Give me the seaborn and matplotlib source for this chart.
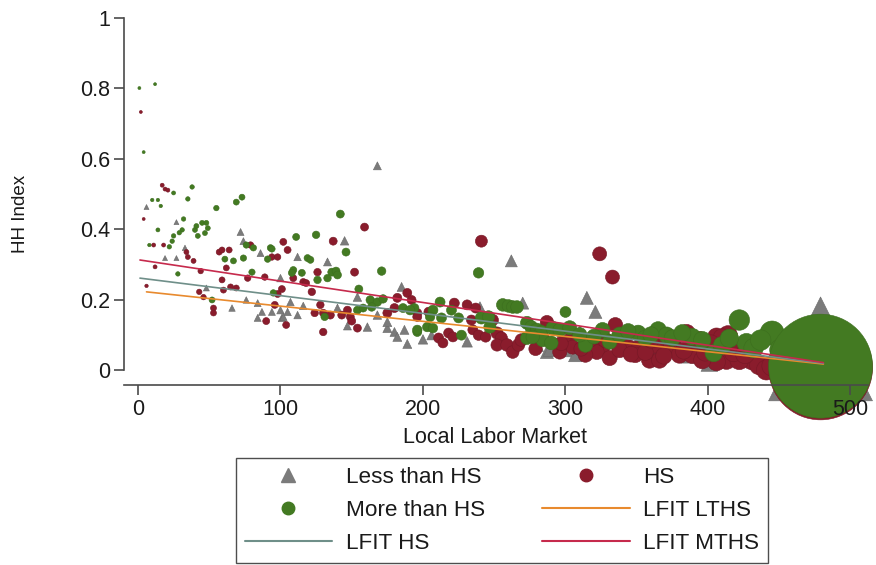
import matplotlib
matplotlib.use("Agg")
import matplotlib.pyplot as plt
import seaborn as sns
import pandas as pd
from matplotlib.lines import Line2D

# ---------------- data ----------------
# Less than HS (triangles)
lths_x = [6, 27, 33, 27, 19, 72, 74, 86, 112, 48, 66, 76, 84, 87, 84, 101, 100, 133, 145, 107,
          100, 105, 112, 102, 116, 140, 154, 168, 147, 161, 175, 180, 182, 189, 185, 168, 262, 270,
          187, 206, 231, 240, 280, 287, 315, 321, 310, 289, 300, 307, 401, 94, 345, 366, 387, 175,
          200, 479]
lths_y = [0.463, 0.42, 0.347, 0.318, 0.318, 0.392, 0.366, 0.332, 0.321, 0.233, 0.176, 0.199, 0.19,
          0.165, 0.148, 0.148, 0.261, 0.307, 0.367, 0.193, 0.17, 0.165, 0.156, 0.151, 0.182, 0.176,
          0.207, 0.156, 0.125, 0.122, 0.119, 0.108, 0.094, 0.074, 0.236, 0.58, 0.31, 0.19, 0.114,
          0.099, 0.08, 0.179, 0.071, 0.051, 0.205, 0.165, 0.105, 0.057, 0.057, 0.043, 0.02, 0.165,
          0.071, 0.057, 0.043, 0.136, 0.087, 0.06]
lths_w = [25, 25, 30, 25, 25, 49, 49, 49, 56, 36, 42, 42, 49, 49, 49, 56, 56, 64, 72, 56,
          56, 56, 56, 56, 56, 64, 72, 72, 64, 72, 81, 81, 81, 81, 81, 64, 144, 144,
          81, 90, 110, 110, 170, 170, 169, 169, 200, 170, 190, 190, 280, 49, 240, 260, 270, 81,
          90, 10800]

# HS (maroon circles)
hs_x = [2, 4, 6, 17, 19, 21, 11, 12, 18, 34, 35, 39, 44, 57, 59, 64, 62, 59, 43, 46, 60, 65, 69,
        53, 53, 79, 77, 89, 94, 98, 102, 105, 90, 96, 116, 118, 109, 126, 122, 101, 98, 137, 159,
        152, 128, 124, 130, 135, 143, 147, 149, 150, 154, 130, 104, 189, 192, 196, 182, 180, 175,
        204, 196, 222, 231, 237, 234, 249, 241, 211, 214, 218, 221, 235, 239, 244, 252, 255, 252,
        259, 263, 267, 269, 287, 284, 303, 305, 324, 333, 335, 326, 322, 340, 344, 352, 359, 375,
        378, 385, 392, 406, 414, 410, 408, 413, 406, 371, 380, 389, 396, 431, 436, 441, 422, 296,
        314, 331, 349, 366, 338, 363, 317, 346, 356, 369, 383, 398, 402, 360, 342, 328, 394, 418,
        426, 445, 450, 311, 297, 279, 479]
hs_y = [0.733, 0.429, 0.239, 0.525, 0.514, 0.511, 0.355, 0.293, 0.355, 0.335, 0.321, 0.31, 0.281,
        0.335, 0.341, 0.341, 0.29, 0.256, 0.222, 0.207, 0.227, 0.236, 0.233, 0.176, 0.162, 0.355,
        0.261, 0.264, 0.321, 0.321, 0.364, 0.341, 0.139, 0.185, 0.25, 0.247, 0.261, 0.278, 0.222,
        0.23, 0.216, 0.366, 0.406, 0.278, 0.185, 0.162, 0.162, 0.156, 0.156, 0.17, 0.151, 0.139,
        0.119, 0.108, 0.128, 0.219, 0.199, 0.162, 0.205, 0.176, 0.162, 0.165, 0.151, 0.19, 0.185,
        0.176, 0.142, 0.142, 0.366, 0.091, 0.077, 0.105, 0.094, 0.114, 0.099, 0.094, 0.105, 0.091,
        0.071, 0.071, 0.051, 0.071, 0.085, 0.136, 0.091, 0.085, 0.065, 0.33, 0.264, 0.128, 0.065,
        0.051, 0.085, 0.065, 0.065, 0.028, 0.071, 0.057, 0.105, 0.065, 0.094, 0.099, 0.091, 0.062,
        0.028, 0.023, 0.057, 0.043, 0.043, 0.028, 0.028, 0.014, 0.0, 0.028, 0.051, 0.043, 0.034,
        0.043, 0.028, 0.057, 0.071, 0.085, 0.045, 0.05, 0.04, 0.055, 0.05, 0.075, 0.085, 0.1,
        0.085, 0.085, 0.05, 0.045, 0.012, 0.005, 0.06, 0.075, 0.06, 0.006]
hs_w = [9, 9, 12, 16, 16, 16, 16, 16, 16, 25, 25, 25, 30, 36, 36, 36, 36, 36, 30, 30, 36, 36, 36,
        36, 36, 42, 42, 42, 42, 42, 49, 49, 49, 49, 49, 49, 49, 56, 56, 49, 49, 64, 64,
        64, 56, 56, 56, 64, 64, 64, 64, 64, 64, 56, 49, 81, 81, 81, 81, 81, 81,
        90, 81, 100, 100, 100, 100, 130, 144, 100, 100, 100, 100, 100, 110, 110, 150, 150, 150,
        160, 160, 160, 160, 180, 180, 200, 200, 196, 196, 220, 220, 220, 240, 240, 250, 260, 280,
        280, 300, 300, 320, 360, 340, 340, 340, 320, 280, 280, 300, 300, 380, 380, 400, 360, 200,
        220, 230, 240, 260, 240, 260, 220, 250, 260, 270, 290, 300, 310, 260, 240, 230, 300, 350,
        360, 420, 440, 210, 200, 180, 10800]

# More than HS (green circles)
mths_x = [1, 12, 4, 10, 14, 16, 25, 38, 35, 32, 31, 29, 25, 24, 22, 8, 14, 40, 41, 42, 45, 48, 49,
          47, 55, 69, 73, 28, 61, 67, 74, 81, 80, 93, 91, 95, 52, 76, 111, 125, 142, 146, 94, 119,
          121, 109, 108, 115, 136, 139, 140, 171, 126, 133, 155, 163, 168, 172, 164, 186, 194, 196,
          131, 154, 158, 212, 220, 207, 191, 205, 213, 225, 241, 246, 256, 260, 263, 266, 239, 196,
          203, 207, 227, 247, 273, 276, 280, 283, 284, 273, 277, 300, 291, 296, 290, 314, 326, 331,
          351, 356, 365, 371, 375, 389, 404, 422, 427, 432, 445, 451, 338, 344, 360, 382, 396, 410,
          415, 437, 458, 462, 303, 310, 320, 479]
mths_y = [0.801, 0.812, 0.619, 0.483, 0.483, 0.466, 0.503, 0.52, 0.486, 0.429, 0.398, 0.39, 0.381,
          0.366, 0.35, 0.355, 0.398, 0.398, 0.409, 0.381, 0.418, 0.418, 0.403, 0.389, 0.46, 0.477,
          0.491, 0.273, 0.315, 0.31, 0.318, 0.347, 0.278, 0.347, 0.315, 0.219, 0.199, 0.355, 0.378,
          0.384, 0.443, 0.335, 0.344, 0.318, 0.313, 0.284, 0.276, 0.276, 0.278, 0.281, 0.27, 0.281,
          0.256, 0.261, 0.23, 0.199, 0.193, 0.202, 0.179, 0.176, 0.176, 0.108, 0.151, 0.17, 0.176,
          0.193, 0.17, 0.17, 0.17, 0.151, 0.148, 0.148, 0.148, 0.151, 0.185, 0.182, 0.179, 0.179,
          0.276, 0.114, 0.122, 0.119, 0.099, 0.122, 0.134, 0.122, 0.114, 0.108, 0.085, 0.091, 0.094,
          0.165, 0.119, 0.114, 0.077, 0.071, 0.114, 0.08, 0.105, 0.091, 0.114, 0.099, 0.091, 0.094,
          0.048, 0.142, 0.077, 0.062, 0.105, 0.057, 0.1, 0.11, 0.1, 0.105, 0.085, 0.07, 0.09, 0.085,
          0.07, 0.09, 0.12, 0.1, 0.095, 0.011]
mths_w = [9, 9, 9, 12, 12, 12, 16, 20, 20, 20, 20, 20, 20, 20, 20, 12, 16, 25, 25, 25, 25, 25, 25,
          25, 30, 36, 36, 20, 36, 36, 40, 40, 40, 42, 42, 42, 36, 40, 49, 56, 64, 64, 42, 49,
          49, 49, 49, 49, 64, 64, 64, 72, 56, 56, 64, 72, 72, 72, 72, 81, 81, 81,
          56, 64, 64, 100, 100, 100, 90, 90, 100, 100, 150, 150, 160, 160, 160, 160, 110, 90,
          90, 90, 100, 150, 170, 170, 180, 180, 180, 170, 180, 120, 190, 190, 190, 210, 220, 220,
          250, 250, 270, 270, 270, 290, 300, 420, 360, 380, 580, 480, 240, 240, 260, 290, 300, 320,
          340, 420, 520, 600, 200, 210, 220, 10800]

# Linear fits (end points)
fit_lths_x = [6, 481]
fit_lths_y = [0.222, 0.017]
fit_hs_x = [1.4, 481]
fit_hs_y = [0.261, 0.019]
fit_mths_x = [1.4, 481]
fit_mths_y = [0.3125, 0.021]

legend_labels = ["Less than HS", "HS", "More than HS", "LFIT LTHS", "LFIT HS", "LFIT MTHS"]

# ---------------- styling ----------------
GRAY = "#7b7b7b"
MAROON = "#8a1c2c"
GREEN = "#437a22"
ORANGE = "#e88a2e"
TEAL = "#6f8f89"
CRIMSON = "#c62a4c"
AXC = "#4a4a4a"
TXT = "#1a1a1a"

sns.set_theme(style="white")
plt.rcParams['font.family'] = ['Liberation Sans', 'DejaVu Sans']

W, H = 876, 565
fig = plt.figure(figsize=(W / 100, H / 100), dpi=100)
ax = fig.add_axes([124 / W, 1 - 385 / H, (868 - 124) / W, (385 - 18) / H])
ax.set_xlim(-9.8, 512.3)
ax.set_ylim(-0.0426, 1.0)

WMAX = 12000.0
SMAX = 0.5184 * WMAX  # area in pt^2 so that diameter(px) ~ sqrt(w)

def scat(xs, ys, ws, marker, color, edge):
    df = pd.DataFrame({"x": xs, "y": ys, "w": ws})
    sns.scatterplot(data=df, x="x", y="y", size="w", sizes=(0, SMAX), size_norm=(0, WMAX),
                    marker=marker, color=color, edgecolor=edge, linewidth=0.4,
                    legend=False, ax=ax, clip_on=False, zorder=2)

scat(lths_x, lths_y, lths_w, "^", GRAY, "#6a6a6a")
scat(hs_x, hs_y, hs_w, "o", MAROON, "#761826")
scat(mths_x, mths_y, mths_w, "o", GREEN, "#3c6e1e")

sns.lineplot(x=fit_lths_x, y=fit_lths_y, color=ORANGE, lw=1.2, ax=ax, zorder=3)
sns.lineplot(x=fit_hs_x, y=fit_hs_y, color=TEAL, lw=1.2, ax=ax, zorder=3)
sns.lineplot(x=fit_mths_x, y=fit_mths_y, color=CRIMSON, lw=1.2, ax=ax, zorder=3)

# axes styling (Stata-like)
for s in ["top", "right"]:
    ax.spines[s].set_visible(False)
ax.spines["left"].set_bounds(0, 1)
for s in ["left", "bottom"]:
    ax.spines[s].set_color(AXC)
    ax.spines[s].set_linewidth(1.2)
    ax.spines[s].set_zorder(6)
ax.xaxis.set_zorder(6)
ax.yaxis.set_zorder(6)
ax.set_yticks([0, 0.2, 0.4, 0.6, 0.8, 1.0])
ax.set_yticklabels(["0", "0.2", "0.4", "0.6", "0.8", "1"])
ax.set_xticks([0, 100, 200, 300, 400, 500])
ax.tick_params(axis="both", which="both", direction="out", length=7, width=1.2, color=AXC,
               labelsize=15.5, labelcolor=TXT, left=True, bottom=True, pad=3)
ax.set_ylabel("HH Index", fontsize=13.5, color=TXT)
ax.set_xlabel("Local Labor Market", fontsize=15.5, color=TXT)
ax.yaxis.set_label_coords(-0.128, 0.466)
ax.xaxis.set_label_coords(0.4987, -0.115)
ax.grid(False)

# legend
handles = [
    Line2D([], [], marker="^", color=GRAY, linestyle="None", markersize=10),
    Line2D([], [], marker="o", color=GREEN, linestyle="None", markersize=9),
    Line2D([], [], color=TEAL, lw=1.5),
    Line2D([], [], marker="o", color=MAROON, linestyle="None", markersize=9),
    Line2D([], [], color=ORANGE, lw=1.5),
    Line2D([], [], color=CRIMSON, lw=1.5),
]
labels = [legend_labels[0], legend_labels[2], legend_labels[4],
          legend_labels[1], legend_labels[3], legend_labels[5]]
leg = fig.legend(handles, labels, ncol=2, loc="upper left",
                 bbox_to_anchor=(236 / W, 1 - 563 / H, (768 - 236) / W, (563 - 458) / H),
                 mode="expand", frameon=True, fancybox=False, fontsize=16.2,
                 handlelength=3.9, handletextpad=0.6, labelspacing=0.55, borderpad=0.38,
                 columnspacing=1.5, borderaxespad=0)
leg.get_frame().set_edgecolor("#222222")
leg.get_frame().set_linewidth(1.0)
for t in leg.get_texts():
    t.set_color(TXT)

fig.savefig("out.png", dpi=100)
